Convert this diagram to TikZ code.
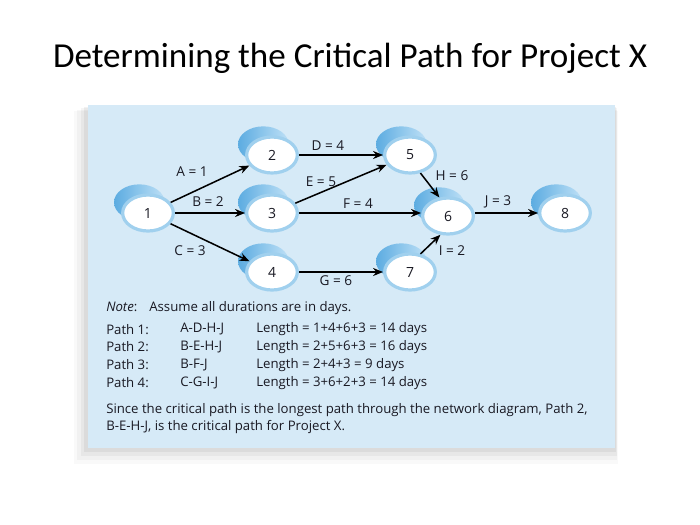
\documentclass[tikz,border=0pt]{standalone}
\usepackage{fontspec}
\setmainfont{Open Sans}
\newfontfamily\titlefont{Carlito}
\usetikzlibrary{arrows.meta,shadows,shapes.geometric}
\definecolor{panel}{RGB}{214,234,247}
\definecolor{blobdark}{RGB}{92,172,225}
\definecolor{bloblight}{RGB}{190,224,246}
\definecolor{rim}{RGB}{160,208,238}
\definecolor{txt}{RGB}{25,25,35}
\tikzset{
  ev/.style={ellipse, fill=white, draw=rim, line width=2.4pt,
    minimum width=38pt, minimum height=27pt, inner sep=0pt,
    font=\fontsize{10.5}{12}\selectfont, text=txt,
    general shadow={shadow xshift=-6.5pt, shadow yshift=8pt,
      left color=blobdark, right color=bloblight, draw=none}},
  arr/.style={-{Stealth[length=7.5pt,width=6pt]}, line width=1.15pt, black},
  lab/.style={font=\fontsize{10.2}{12}\selectfont, text=txt, inner sep=0pt},
  body/.style={font=\fontsize{9.9}{12}\selectfont, text=txt, inner sep=0pt, anchor=west}
}
\begin{document}
\begin{tikzpicture}[x=0.75pt,y=-0.75pt]
\useasboundingbox (0,0) rectangle (700,525);
\fill[white] (0,0) rectangle (700,525);
% title
\node[font=\titlefont\fontsize{26.3}{30}\selectfont, inner sep=0pt] (title) at (350,58) {Determining the Critical Path for Project X};
% panel shadow
\foreach \i/\o in {16/0.025,12/0.03,8/0.04,4/0.05}{
  \fill[black, opacity=\o] (88-\i*0.9,105+\i*0.4) rectangle (615+\i*0.2,448+\i);
}
\fill[panel] (88,105) rectangle (615,448);
% nodes
\node[ev] (n1) at (148,213) {1};
\node[ev] (n2) at (272,155) {2};
\node[ev] (n3) at (272,213) {3};
\node[ev] (n4) at (272,272) {4};
\node[ev] (n5) at (410,155) {5};
\node[ev] (n6) at (448,216) {6};
\node[ev] (n7) at (410,272) {7};
\node[ev] (n8) at (565,213) {8};
% edges
\draw[arr] (n1) -- (n2);
\draw[arr] (n1.east) -- (n3.west);
\draw[arr] (n1) -- (n4);
\draw[arr] (n2) -- (n5);
\draw[arr] (n3) -- (n5);
\draw[arr] (n3.east) -- (n3.east -| n6.west);
\draw[arr] (n4) -- (n7);
\draw[arr] (n5.-60) -- (n6.115);
\draw[arr] (n7.60) -- (n6.-112);
\draw[arr] (n6.east |- n8.west) -- (n8.west);
% edge labels
\node[lab] (la) at (192,172) {A = 1};
\node[lab] (lb) at (208,202) {B = 2};
\node[lab] (lc) at (190,251) {C = 3};
\node[lab] (ld) at (328,146) {D = 4};
\node[lab] (le) at (321,182) {E = 5};
\node[lab] (lf) at (358,204) {F = 4};
\node[lab] (lg) at (336,281) {G = 6};
\node[lab] (lh) at (452,176) {H = 6};
\node[lab] (li) at (452,251) {I = 2};
\node[lab] (lj) at (498,202) {J = 3};
% text
\node[body] (note) at (106,308) {\textit{Note}:\hspace{0.9em}Assume all durations are in days.};
\node[body] (p1) at (106,329.5) {Path 1:};
\node[body] (p2) at (106,347) {Path 2:};
\node[body] (p3) at (106,365) {Path 3:};
\node[body] (p4) at (106,383) {Path 4:};
\node[body] (q1) at (180,329.5) {A-D-H-J};
\node[body] (q2) at (180,347) {B-E-H-J};
\node[body] (q3) at (180,365) {B-F-J};
\node[body] (q4) at (180,383) {C-G-I-J};
\node[body] (r1) at (256,329.5) {Length = 1+4+6+3 = 14 days};
\node[body] (r2) at (256,347) {Length = 2+5+6+3 = 16 days};
\node[body] (r3) at (256,365) {Length = 2+4+3 = 9 days};
\node[body] (r4) at (256,383) {Length = 3+6+2+3 = 14 days};
\node[body] (s1) at (106,410) {Since the critical path is the longest path through the network diagram, Path 2,};
\node[body] (s2) at (106,427) {B-E-H-J, is the critical path for Project X.};
\end{tikzpicture}
\end{document}
